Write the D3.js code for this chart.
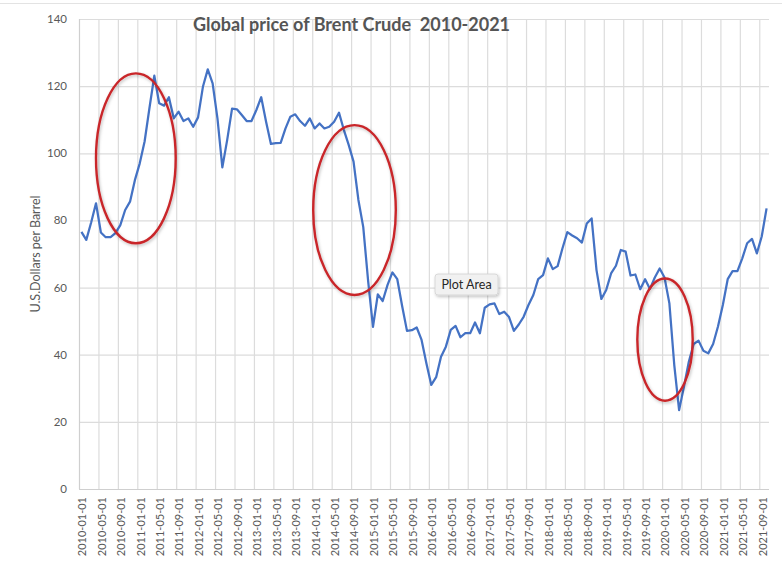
<!DOCTYPE html>
<html>
<head>
<meta charset="utf-8">
<script src="https://cdn.jsdelivr.net/npm/d3@7"></script>
<style>
  html, body { margin: 0; padding: 0; background: #fff; }
  svg { display: block; font-family: Lato, "Open Sans", sans-serif; }
</style>
</head>
<body>
<svg id="chart" width="782" height="562"></svg>
<script>
// monthly Brent price, USD per barrel, 2010-01 .. 2021-10
const prices = [
  76.6, 74.2, 79.4, 85.1, 76.4, 75.0, 75.0, 76.2, 78.6, 83.1, 85.6, 92.0,       // 2010
  97.0, 103.5, 113.5, 123.1, 114.9, 114.2, 116.7, 110.4, 112.4, 109.6, 110.4, 107.9, // 2011
  110.7, 119.8, 125.0, 120.8, 110.3, 95.8, 104.0, 113.3, 113.1, 111.4, 109.6, 109.6, // 2012
  112.9, 116.7, 109.4, 102.8, 103.0, 103.1, 107.4, 110.9, 111.6, 109.6, 108.2, 110.4, // 2013
  107.4, 108.9, 107.4, 107.9, 109.4, 112.1, 107.0, 102.5, 97.5, 86.1, 78.0, 62.0,  // 2014
  48.3, 58.0, 56.0, 60.8, 64.5, 62.5, 54.5, 47.1, 47.3, 48.1, 44.4, 37.4,       // 2015
  31.0, 33.3, 39.4, 42.4, 47.4, 48.6, 45.2, 46.4, 46.4, 49.6, 46.4, 54.0,       // 2016
  55.0, 55.3, 52.1, 52.8, 51.2, 47.1, 49.0, 51.3, 54.8, 57.8, 62.5, 63.7,       // 2017
  68.7, 65.5, 66.4, 71.7, 76.5, 75.5, 74.7, 73.4, 79.1, 80.6, 65.2, 56.6,       // 2018
  59.3, 64.2, 66.5, 71.2, 70.7, 63.6, 63.9, 59.5, 62.5, 59.6, 63.0, 65.7,       // 2019
  63.0, 55.3, 37.0, 23.5, 30.5, 37.9, 43.2, 44.2, 41.2, 40.4, 43.2, 48.4,       // 2020
  54.8, 62.5, 64.9, 64.9, 68.7, 73.2, 74.5, 70.2, 75.2, 83.6                    // 2021
];
const months = d3.timeMonth.range(new Date(2010, 0, 1), new Date(2021, 10, 1));
const yTicks = [0, 20, 40, 60, 80, 100, 120, 140];
const labelEvery = 4;

// red rings drawn over the chart: centre month index / value, half sizes in months / dollars
const rings = [
  { month: 11.2, value: 98.5, halfMonths: 8.2, halfValue: 25.3 },
  { month: 56.2, value: 83.1, halfMonths: 8.5, halfValue: 25.3 },
  { month: 120.1, value: 44.5, halfMonths: 5.7, halfValue: 18.2 }
];

const fmt = d3.timeFormat('%Y-%m-%d');
const svg = d3.select('#chart');
const margin = { left: 79, right: 13, top: 19, bottom: 73 };
const width = 782 - margin.left - margin.right;
const height = 562 - margin.top - margin.bottom;

const x = d3.scaleBand().domain(d3.range(months.length)).range([0, width]).padding(0);
const y = d3.scaleLinear().domain([0, 140]).range([height, 0]);
const bw = x.bandwidth();

// faint ui strip at the very top
svg.append('line').attr('x1', 0).attr('x2', 782).attr('y1', 3.5).attr('y2', 3.5)
  .attr('stroke', '#e3e3e3');

const defs = svg.append('defs');
const shadow = defs.append('filter').attr('id', 'shadow')
  .attr('x', '-20%').attr('y', '-20%').attr('width', '140%').attr('height', '140%');
shadow.append('feDropShadow').attr('dx', 1).attr('dy', 1.5).attr('stdDeviation', 1.5)
  .attr('flood-color', '#000').attr('flood-opacity', 0.25);

const g = svg.append('g').attr('transform', `translate(${margin.left},${margin.top})`);

// horizontal grid
g.append('g').selectAll('line').data(yTicks).join('line')
  .attr('x1', 0).attr('x2', width)
  .attr('y1', d => y(d) + 0.5).attr('y2', d => y(d) + 0.5)
  .attr('stroke', d => d === 0 ? '#cfcfcf' : '#dcdcdc').attr('stroke-width', 1.2);

// vertical grid every 4 months, at category boundaries
const tickIdx = d3.range(0, months.length, labelEvery);
g.append('g').selectAll('line').data(tickIdx).join('line')
  .attr('x1', d => x(d) + 0.5).attr('x2', d => x(d) + 0.5)
  .attr('y1', 0).attr('y2', height)
  .attr('stroke', d => d === 0 ? '#cfcfcf' : '#dcdcdc').attr('stroke-width', 1.2);

// y tick labels
g.append('g').selectAll('text').data(yTicks).join('text')
  .attr('x', -12).attr('y', d => y(d)).attr('dy', '0.35em')
  .attr('text-anchor', 'end')
  .attr('font-size', 11.5).attr('fill', '#595959')
  .text(d => d);

// x tick labels, rotated
g.append('g').selectAll('text').data(tickIdx).join('text')
  .attr('transform', d => `translate(${x(d) + bw / 2 + 1},${height + 8}) rotate(-90)`)
  .attr('text-anchor', 'end').attr('dy', '0.35em')
  .attr('font-size', 11).attr('fill', '#595959')
  .text(d => fmt(months[d]));

// axis title
svg.append('text')
  .attr('transform', `translate(40,254) rotate(-90)`)
  .attr('text-anchor', 'middle')
  .attr('font-size', 12.5).attr('fill', '#595959')
  .text('U.S.Dollars per Barrel');

// chart title
svg.append('text')
  .attr('x', 193).attr('y', 31)
  .attr('font-size', 18).attr('font-weight', 'bold').attr('fill', '#555555')
  .attr('xml:space', 'preserve')
  .text('Global price of Brent Crude  2010-2021');

// price line
const line = d3.line()
  .x((d, i) => x(i) + bw / 2)
  .y(d => y(d));

g.append('path').datum(prices)
  .attr('d', line)
  .attr('fill', 'none')
  .attr('stroke', '#4472c4')
  .attr('stroke-width', 2.25)
  .attr('stroke-linejoin', 'round');

// red rings
g.append('g').selectAll('ellipse').data(rings).join('ellipse')
  .attr('cx', d => x(0) + (d.month + 0.5) * bw)
  .attr('cy', d => y(d.value))
  .attr('rx', d => d.halfMonths * bw)
  .attr('ry', d => y(0) - y(d.halfValue))
  .attr('fill', 'none')
  .attr('stroke', '#c9272a')
  .attr('stroke-width', 2.4)
  .attr('filter', 'url(#shadow)');

// hover tooltip left in the screenshot
const tip = svg.append('g').attr('transform', 'translate(435,274)');
tip.append('rect').attr('width', 63).attr('height', 21).attr('rx', 3)
  .attr('fill', '#f1f1f1').attr('stroke', '#d2d2d2').attr('stroke-width', 0.8)
  .attr('filter', 'url(#shadow)');
tip.append('text').attr('x', 31.5).attr('y', 15)
  .attr('text-anchor', 'middle').attr('font-size', 12.5).attr('fill', '#262626')
  .text('Plot Area');
</script>
</body>
</html>
